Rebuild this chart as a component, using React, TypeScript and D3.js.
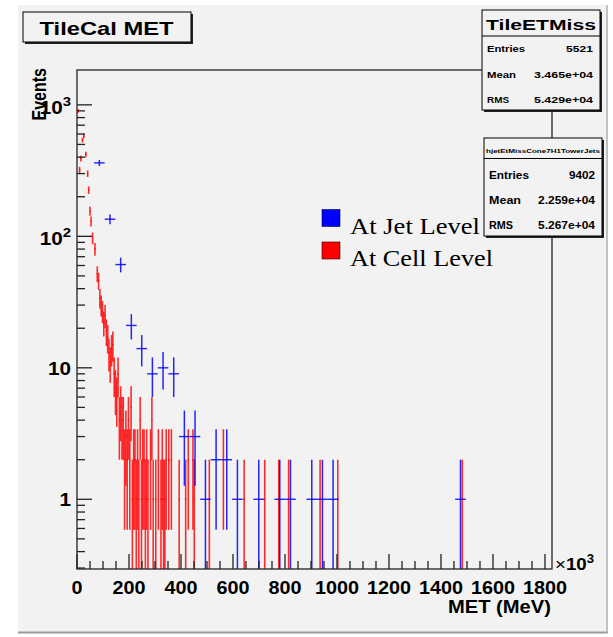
import React from 'react';
import * as d3 from 'd3';

// MET values in units of 10^3 MeV (bin centers) and counts
const redCenters = [5, 10, 15, 21, 26, 34, 41, 45, 50, 54, 60, 69, 78, 83, 88, 93, 98, 103, 108, 113, 118, 123, 128, 133, 138, 143, 148, 153, 158, 163, 168, 173, 178, 183, 188, 193, 198, 203, 208, 213, 218, 223, 228, 233, 238, 243, 248, 253, 258, 263, 268, 273, 283, 288, 293, 303, 313, 323, 328, 333, 338, 343, 353, 363, 393, 418, 428, 446, 451, 509, 563, 643, 722, 776, 814, 935, 1003, 1482];
const redCounts = [900, 320, 390, 540, 580, 420, 300, 225, 156, 130, 97, 80, 52, 46, 34, 30, 27, 22, 25, 19, 17, 13, 11, 14, 15, 9, 7, 6, 9, 4, 5, 4, 4, 2, 3, 2, 4, 2, 5, 1, 2, 2, 1, 2, 1, 4, 1, 2, 2, 1, 2, 1, 2, 4, 1, 1, 2, 1, 2, 1, 1, 2, 2, 2, 1, 1, 2, 2, 1, 1, 2, 1, 1, 1, 1, 1, 1, 1];
const redBinWidth = 5;

const blueCenters = [86, 127, 168, 209, 249, 290, 331, 372, 413, 454, 494, 535, 576, 617, 699, 780, 821, 903, 944, 985, 1475];
const blueCounts = [362, 135, 61, 21, 14, 9, 10, 9, 3, 3, 1, 2, 2, 1, 1, 1, 1, 1, 1, 1, 1];
const blueBinWidth = 40.85;

const xMajor = [0, 200, 400, 600, 800, 1000, 1200, 1400, 1600, 1800];
const xLabels = ['0', '200', '400', '600', '800', '1000', '1200', '1400', '1600', '1800'];
const yMajor = [1, 10, 100, 1000];
const yLabelBase = ['1', '10', '10', '10'];
const yLabelExp = ['', '', '2', '3'];

const statsNames = ['Entries', 'Mean', 'RMS'];
const statsRed = ['5521', '3.465e+04', '5.429e+04'];
const statsBlue = ['9402', '2.259e+04', '5.267e+04'];

const SANS = '"Liberation Sans", Arial, Helvetica, sans-serif';
const SERIF = '"Liberation Serif", "Times New Roman", serif';
const BG = '#f2f2f2';

const x = d3.scaleLinear().domain([0, 1827]).range([77, 552]);
const y = d3.scaleLog().domain([0.295, 1841]).range([569, 70]);
const [yMin, yMax] = y.domain();

function errorBars(centers: number[], counts: number[], w: number, color: string, sw: number, op: number) {
  return centers.map((c, i) => {
    const n = counts[i];
    const e = Math.sqrt(n);
    const lo = Math.max(n - e, yMin);
    const hi = Math.min(n + e, yMax);
    const xc = x(c);
    return (
      <g key={i} stroke={color} strokeOpacity={op}>
        <line x1={xc} x2={xc} y1={y(lo)} y2={y(hi)} strokeWidth={sw} />
        <line x1={x(c - w / 2)} x2={x(c + w / 2)} y1={y(n)} y2={y(n)} strokeWidth={1.4} />
      </g>
    );
  });
}

function StatsBox({ x0, y0, w, h, title, titleSize, titleLen, titleY, sepY, rowsY, values, fs, nameLens, valLens }: any) {
  return (
    <g>
      <rect x={x0 + 2} y={y0 + 2} width={w} height={h} fill="#222" />
      <rect x={x0} y={y0} width={w} height={h} fill={BG} stroke="#000" strokeWidth={1} />
      <line x1={x0} x2={x0 + w} y1={sepY} y2={sepY} stroke="#000" strokeWidth={1} />
      <text x={x0 + w / 2} y={titleY} textAnchor="middle" fontFamily={SANS} fontWeight="bold" fontSize={titleSize}
        textLength={titleLen} lengthAdjust="spacingAndGlyphs">{title}</text>
      {statsNames.map((nm, i) => (
        <g key={nm} fontFamily={SANS} fontWeight="bold" fontSize={fs}>
          <text x={x0 + 5} y={rowsY[i]} textLength={nameLens[i]} lengthAdjust="spacingAndGlyphs">{nm}</text>
          <text x={x0 + w - 7} y={rowsY[i]} textAnchor="end" textLength={valLens[i]} lengthAdjust="spacingAndGlyphs">{values[i]}</text>
        </g>
      ))}
    </g>
  );
}

export default function App() {
  const xMinor = d3.range(0, 1827, 50);
  const yMinor: number[] = [];
  [0.1, 1, 10, 100, 1000].forEach((d) => {
    for (let k = 2; k <= 9; k++) {
      const v = k * d;
      if (v >= yMin && v <= yMax) yMinor.push(v);
    }
  });

  return (
    <svg width={613} height={637} style={{ position: 'absolute', left: 0, top: 0 }}>
      <rect x={0} y={0} width={613} height={637} fill="#fff" />
      <rect x={18} y={5} width={590} height={628} fill={BG} />
      <line x1={18} x2={608} y1={632.5} y2={632.5} stroke="#9a9a9a" strokeWidth={2} />
      <line x1={607} x2={607} y1={5} y2={633} stroke="#b0b0b0" strokeWidth={1.5} />

      {/* data */}
      <g>{errorBars(redCenters, redCounts, redBinWidth, '#ff0000', 1.6, 0.82)}</g>
      <g>{errorBars(blueCenters, blueCounts, blueBinWidth, '#0000ff', 1.5, 0.85)}</g>

      {/* frame */}
      <rect x={77} y={70} width={475} height={499} fill="none" stroke="#222" strokeWidth={1.3} />

      {/* x ticks */}
      {xMinor.map((v) => (
        <line key={'xm' + v} x1={x(v)} x2={x(v)} y1={569} y2={xMajor.includes(v) ? 554 : 561} stroke="#222" strokeWidth={1.3} />
      ))}
      {xMajor.map((v, i) => (
        <text key={'xl' + v} transform={`translate(${x(v)},594) scale(1.1,1)`} textAnchor="middle"
          fontFamily={SANS} fontWeight="bold" fontSize={18}>{xLabels[i]}</text>
      ))}
      <text transform="translate(551,613) scale(1.12,1)" textAnchor="end" fontFamily={SANS} fontWeight="bold" fontSize={18}>MET (MeV)</text>
      <text transform="translate(555,570) scale(1.1,1)" fontFamily={SANS} fontSize={17}>
        <tspan fontWeight="normal">×</tspan><tspan fontWeight="bold">10</tspan><tspan fontWeight="bold" fontSize={12} dy={-7}>3</tspan>
      </text>

      {/* y ticks */}
      {yMinor.map((v) => (
        <line key={'ym' + v} x1={77} x2={85} y1={y(v)} y2={y(v)} stroke="#222" strokeWidth={1.3} />
      ))}
      {yMajor.map((v) => (
        <line key={'yM' + v} x1={77} x2={92} y1={y(v)} y2={y(v)} stroke="#222" strokeWidth={1.3} />
      ))}
      {yMajor.map((v, i) => (
        <text key={'yl' + v} transform={`translate(71,${y(v) + (yLabelExp[i] ? 9 : 7)}) scale(1.15,1)`} textAnchor="end"
          fontFamily={SANS} fontWeight="bold" fontSize={18}>
          {yLabelBase[i]}
          {yLabelExp[i] ? <tspan fontSize={13} dy={-8}>{yLabelExp[i]}</tspan> : null}
        </text>
      ))}
      <text transform="translate(46,68) scale(1.25,1) rotate(-90)" textAnchor="end" fontFamily={SANS} fontWeight="bold" fontSize={16}>Events</text>

      {/* title */}
      <rect x={25} y={14} width={168} height={30} fill="#222" />
      <rect x={23} y={12} width={168} height={30} fill={BG} stroke="#000" strokeWidth={1} />
      <text x={39.5} y={35} fontFamily={SANS} fontWeight="bold" fontSize={18.6} textLength={134} lengthAdjust="spacingAndGlyphs">TileCal MET</text>

      {/* stats boxes */}
      <StatsBox x0={482} y0={10} w={118} h={100} title="TileETMiss" titleSize={14} titleLen={110} titleY={29.5} sepY={36}
        rowsY={[52, 77.5, 102.5]} values={statsRed} fs={9.5} nameLens={[38, 29, 22]} valLens={[27, 59, 59]} />
      <StatsBox x0={484} y0={138} w={118} h={98} title="hjetEtMissCone7H1TowerJets" titleSize={6} titleLen={114} titleY={153} sepY={158.5}
        rowsY={[179, 204, 229]} values={statsBlue} fs={10} nameLens={[40, 32, 24]} valLens={[26, 57, 57]} />

      {/* legend */}
      <rect x={322} y={209.5} width={18} height={17} fill="#0000ff" stroke="#000033" strokeWidth={0.6} />
      <text x={350} y={234} fontFamily={SERIF} fontSize={23} textLength={130} lengthAdjust="spacingAndGlyphs">At Jet Level</text>
      <rect x={322} y={242} width={18} height={17} fill="#ff0000" stroke="#330000" strokeWidth={0.6} />
      <text x={350} y={266} fontFamily={SERIF} fontSize={23} textLength={143} lengthAdjust="spacingAndGlyphs">At Cell Level</text>
    </svg>
  );
}
